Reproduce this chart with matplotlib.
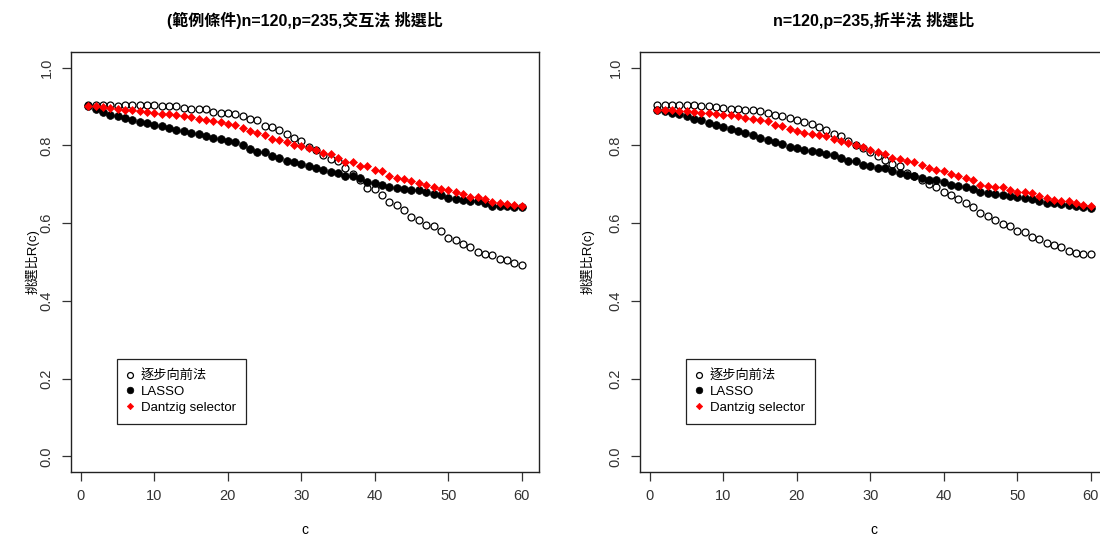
import matplotlib
matplotlib.use("Agg")
import matplotlib.pyplot as plt
import numpy as np

c = np.arange(1, 61)

left_forward = [0.903,0.903,0.903,0.904,0.902,0.903,0.905,0.905,0.905,0.904,
                0.902,0.902,0.900,0.896,0.894,0.894,0.894,0.887,0.883,0.883,0.881,0.876,
                0.868,0.864,0.851,0.847,0.840,0.830,0.820,0.812,0.796,0.789,0.774,0.765,
                0.761,0.743,0.727,0.711,0.690,0.688,0.673,0.655,0.647,0.634,0.617,0.608,
                0.595,0.593,0.581,0.561,0.557,0.546,0.538,0.526,0.521,0.518,0.509,0.505,
                0.497,0.492]
left_lasso = [0.900,0.894,0.885,0.878,0.876,0.870,0.864,0.860,0.857,0.853,0.849,
              0.845,0.840,0.836,0.833,0.829,0.825,0.819,0.816,0.810,0.808,0.801,
              0.790,0.784,0.783,0.772,0.767,0.759,0.756,0.753,0.746,0.743,0.737,0.731,
              0.729,0.720,0.720,0.716,0.707,0.703,0.698,0.692,0.690,0.688,0.686,0.686,
              0.680,0.675,0.673,0.665,0.662,0.660,0.658,0.658,0.651,0.644,0.643,0.643,
              0.641,0.641]
left_dantzig = [0.902,0.900,0.898,0.896,0.894,0.892,0.892,0.888,0.885,0.883,0.881,
                0.880,0.878,0.875,0.873,0.869,0.866,0.862,0.859,0.855,0.852,0.845,
                0.836,0.832,0.827,0.817,0.814,0.808,0.800,0.799,0.793,0.789,0.780,0.779,
                0.767,0.757,0.757,0.746,0.746,0.737,0.735,0.722,0.716,0.714,0.709,0.704,
                0.697,0.692,0.689,0.684,0.679,0.674,0.668,0.666,0.662,0.655,0.651,0.649,
                0.646,0.643]

right_forward = [0.905,0.905,0.905,0.905,0.905,0.905,
                 0.902,0.900,0.899,0.897,0.894,0.894,0.892,0.890,0.888,0.883,0.879,0.876,
                 0.870,0.864,0.860,0.855,
                 0.847,0.840,0.829,0.823,0.810,0.801,0.793,0.782,0.773,0.763,0.752,0.746,
                 0.730,0.722,0.711,0.701,0.694,0.680,0.673,0.662,0.651,0.641,0.627,0.619,
                 0.608,0.598,0.593,0.581,0.576,0.565,0.559,0.550,0.544,0.538,0.529,0.524,
                 0.520,0.520]
right_lasso = [0.890,0.889,0.883,0.881,0.875,0.869,0.864,0.857,0.853,0.847,0.842,
               0.838,0.833,0.827,0.819,0.813,0.809,0.804,0.797,0.793,0.789,0.786,
               0.782,0.777,0.774,0.767,0.761,0.760,0.750,0.747,0.743,0.741,0.733,0.729,
               0.724,0.722,0.716,0.711,0.710,0.705,0.698,0.696,0.692,0.687,0.681,0.677,
               0.675,0.673,0.670,0.667,0.664,0.662,0.658,0.653,0.651,0.649,0.647,0.644,
               0.642,0.640]
right_dantzig = [0.892,0.891,0.890,0.889,0.888,0.886,0.883,0.883,0.881,0.879,0.878,
                 0.875,0.870,0.868,0.864,0.862,0.853,0.849,0.842,0.838,0.833,0.830,
                 0.827,0.823,0.816,0.810,0.806,0.801,0.796,0.789,0.783,0.778,0.767,0.765,
                 0.759,0.756,0.750,0.741,0.737,0.733,0.727,0.722,0.716,0.710,0.699,0.696,
                 0.692,0.692,0.686,0.681,0.679,0.677,0.670,0.664,0.660,0.658,0.656,0.651,
                 0.647,0.644]

titles = ["(範例條件)n=120,p=235,交互法 挑選比", "n=120,p=235,折半法 挑選比"]
labels = ["逐步向前法", "LASSO", "Dantzig selector"]
xticks = [0, 10, 20, 30, 40, 50, 60]
yticks = [0.0, 0.2, 0.4, 0.6, 0.8, 1.0]
ylabel = "挑選比R(c)"
xlabel = "c"

plt.rcParams['font.family'] = ['Liberation Sans', 'Noto Sans CJK TC', 'DejaVu Sans']

W, H = 1100, 537
fig = plt.figure(figsize=(W / 100, H / 100), dpi=100)
fig.patch.set_facecolor('white')

panels = [
    (71, titles[0], left_forward, left_lasso, left_dantzig, 0),
    (640, titles[1], right_forward, right_lasso, right_dantzig, 10),
]

for left_px, title, fwd, las, dan, ylpad in panels:
    ax = fig.add_axes([left_px / W, 1 - 472 / H, 468 / W, 420 / H])
    ax.plot(c, fwd, linestyle='none', marker='o', markersize=5.0,
            markerfacecolor='none', markeredgecolor='black', markeredgewidth=0.9,
            label=labels[0])
    ax.plot(c, las, linestyle='none', marker='o', markersize=5.6,
            markerfacecolor='black', markeredgecolor='black', markeredgewidth=0.5,
            label=labels[1])
    ax.plot(c, dan, linestyle='none', marker='D', markersize=3.8,
            markerfacecolor='red', markeredgecolor='red', markeredgewidth=0.5,
            label=labels[2])
    ax.set_xlim(-1.36, 62.36)
    ax.set_ylim(-0.04, 1.04)
    ax.set_xticks(xticks)
    ax.set_yticks(yticks)
    ax.set_yticklabels([f"{v:.1f}" for v in yticks], rotation=90, va='center')
    ax.tick_params(axis='both', direction='out', length=6.5, width=0.9,
                   colors='#333333', labelsize=10.5, pad=6)
    for s in ax.spines.values():
        s.set_color('#222222')
        s.set_linewidth(1.0)
    ax.set_title(title, fontsize=11.5, fontweight='bold', pad=19)
    ax.set_xlabel(xlabel, fontsize=10, labelpad=14)
    ax.set_ylabel(ylabel, fontsize=9.5, labelpad=ylpad)
    leg = ax.legend(loc='lower left', bbox_to_anchor=(0.098, 0.114),
                    borderaxespad=0, fancybox=False, framealpha=1,
                    edgecolor='#222222', fontsize=9.5, handlelength=0.4,
                    handletextpad=0.6, labelspacing=0.25, borderpad=0.8,
                    markerscale=0.85)
    leg.get_frame().set_linewidth(0.9)

fig.savefig("out.png", dpi=100, facecolor='white')
